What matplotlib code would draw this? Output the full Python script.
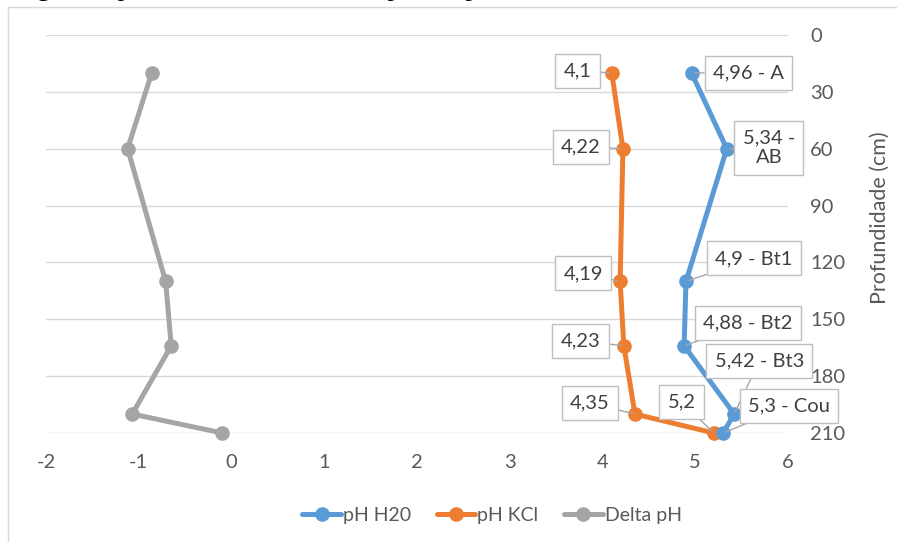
import matplotlib
matplotlib.use("Agg")
import matplotlib.pyplot as plt
from matplotlib.patches import Rectangle

plt.rcParams['font.family'] = ['Lato', 'DejaVu Sans']

# Soil profile data
depth = [20, 60, 130, 164, 200, 210]
horizons = ['A', 'AB', 'Bt1', 'Bt2', 'Bt3', 'Cou']
ph_h2o = [4.96, 5.34, 4.90, 4.88, 5.42, 5.30]
ph_kcl = [4.10, 4.22, 4.19, 4.23, 4.35, 5.20]
delta_ph = [-0.86, -1.12, -0.71, -0.65, -1.07, -0.10]

x_ticks = [-2, -1, 0, 1, 2, 3, 4, 5, 6]
y_ticks = [0, 30, 60, 90, 120, 150, 180, 210]

BLUE = '#5B9BD5'
ORANGE = '#ED7D31'
GRAY = '#A5A5A5'
TXT = '#595959'
FS = 14.5

fig = plt.figure(figsize=(8.97, 5.42), dpi=100)
W, H = 897, 542

# outer chart frame
fig.patches.append(Rectangle((8 / W, -0.1), 2.0, 1.1 - 7 / H, transform=fig.transFigure,
                             fill=False, ec='#D9D9D9', lw=1.0))

# caption line above the chart (cropped at the top edge)
fig.text(15 / W, 1 + 4 / H, 'Figura 3: pH em H2O, KCl e delta pH em profundidade,',
         family='Liberation Serif', fontsize=19, va='baseline', ha='left', color='black')

ax = fig.add_axes([46 / W, 1 - 433 / H, (788 - 46) / W, (433 - 35) / H])
ax.set_xlim(x_ticks[0], x_ticks[-1])
ax.set_ylim(y_ticks[-1], y_ticks[0])
ax.set_xticks(x_ticks)
ax.set_yticks(y_ticks)
ax.set_xticklabels([str(v) for v in x_ticks])
ax.yaxis.tick_right()
ax.yaxis.set_label_position('right')
for s in ax.spines.values():
    s.set_visible(False)
ax.tick_params(axis='both', length=0, colors=TXT, labelsize=FS)
ax.tick_params(axis='x', pad=15)
ax.tick_params(axis='y', pad=16)
ax.grid(axis='y', color='#D9D9D9', lw=1.0)
ax.set_axisbelow(True)
ax.set_ylabel('Profundidade (cm)', color=TXT, fontsize=15.5)
ax.yaxis.set_label_coords(1.11, 0.54)

common = dict(lw=3.6, marker='o', markersize=9.5, solid_capstyle='round',
              solid_joinstyle='round', clip_on=False)
ax.plot(ph_h2o, depth, color=BLUE, label='pH H20', zorder=4, **common)
ax.plot(ph_kcl, depth, color=ORANGE, label='pH KCl', zorder=3, **common)
ax.plot(delta_ph, depth, color=GRAY, label='Delta pH', zorder=2, **common)

def fmt(v):
    return f"{v:g}".replace('.', ',')

box = dict(boxstyle='square,pad=0.42', fc='white', ec='#BFBFBF', lw=1.0)
arrow = dict(arrowstyle='-', color='#A6A6A6', lw=1.0, shrinkA=0, shrinkB=2)

# label offsets (pixels) for each series
h2o_off = [(57, 0), (42, 1), (68, 23), (64, 23), (25, 53), (66, 27)]
kcl_off = [(-34, 2), (-42, 2), (-37, 8), (-43, 5), (-45, 11), (-32, 31)]
h2o_wrap = [False, True, False, False, False, False]

for v, d, hz, off, wrap in zip(ph_h2o, depth, horizons, h2o_off, h2o_wrap):
    label = f"{fmt(v)} - {hz}"
    if wrap:
        label = f"{fmt(v)} -\n{hz}"
    ax.annotate(label, (v, d), xytext=off, textcoords='offset pixels',
                ha='center', va='center', fontsize=FS, color='#404040',
                bbox=box, arrowprops=arrow, zorder=6, linespacing=1.2,
                annotation_clip=False)

for v, d, off in zip(ph_kcl, depth, kcl_off):
    ax.annotate(fmt(v), (v, d), xytext=off, textcoords='offset pixels',
                ha='center', va='center', fontsize=FS, color='#404040',
                bbox=box, arrowprops=arrow, zorder=6, annotation_clip=False)

leg = fig.legend(loc='center', bbox_to_anchor=(492 / W, 1 - 515 / H), ncol=3,
                 frameon=False, fontsize=14, handlelength=2.0, handletextpad=0.1,
                 columnspacing=1.3, labelcolor=TXT)

fig.savefig('out.png', dpi=100)
